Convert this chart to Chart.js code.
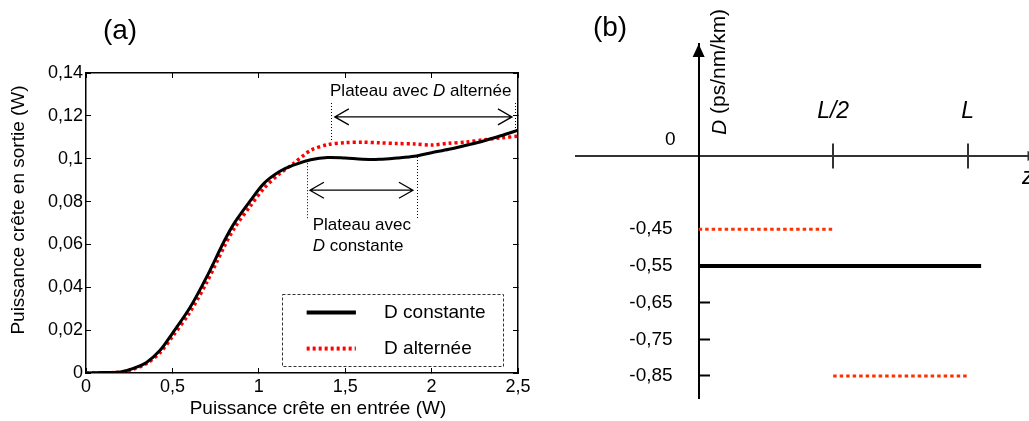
<!DOCTYPE html>
<html lang="fr">
<head>
<meta charset="utf-8">
<title>Puissance crête et profil de dispersion</title>
<script src="https://cdn.jsdelivr.net/npm/chart.js@4.4.1/dist/chart.umd.min.js"></script>
<style>
  html, body { margin: 0; padding: 0; background: #fff; }
  .figure { position: relative; width: 1029px; height: 421px; overflow: hidden; }
  #chart-a { position: absolute; left: 0; top: 0; }
  #chart-b { position: absolute; left: 540px; top: 0; }
</style>
</head>
<body>
<div class="figure">
  <canvas id="chart-a" width="540" height="421"></canvas>
  <canvas id="chart-b" width="489" height="421"></canvas>
</div>
<script>
const FONT_FAMILY = '"Liberation Sans", Arial, Helvetica, sans-serif';

// (a) output peak power vs input peak power
const inputPower = [0, 0.1, 0.2, 0.27, 0.35, 0.43, 0.5, 0.6, 0.7, 0.8, 0.86, 0.95, 1.03, 1.12, 1.2, 1.3, 1.4, 1.5, 1.6, 1.7, 1.8, 1.9, 2, 2.1, 2.2, 2.3, 2.4, 2.5];
const outputConstant = [0, 0.0002, 0.0005, 0.002, 0.0049, 0.0107, 0.0185, 0.0303, 0.0451, 0.0616, 0.0702, 0.0803, 0.0885, 0.094, 0.097, 0.0995, 0.1006, 0.1003, 0.0998, 0.0997, 0.1003, 0.1011, 0.1028, 0.1044, 0.1063, 0.1083, 0.1107, 0.1133];
const outputAlternating = [0, 0.0001, 0.0004, 0.0017, 0.0044, 0.0096, 0.017, 0.0282, 0.0425, 0.059, 0.0678, 0.0778, 0.0862, 0.093, 0.0977, 0.1039, 0.1066, 0.1075, 0.1077, 0.1074, 0.1071, 0.1069, 0.1064, 0.1072, 0.1078, 0.1088, 0.1097, 0.1105];
const powerTicks = [0, 0.5, 1, 1.5, 2, 2.5];
const powerTickLabels = ["0", "0,5", "1", "1,5", "2", "2,5"];
const outputTicks = [0, 0.02, 0.04, 0.06, 0.08, 0.1, 0.12, 0.14];
const outputTickLabels = ["0", "0,02", "0,04", "0,06", "0,08", "0,1", "0,12", "0,14"];

// (b) dispersion along the fibre (z in units of L)
const constantZ = [0, 1.05];
const constantD = [-0.55, -0.55];
const alternatingFirstZ = [0, 0.5];
const alternatingFirstD = [-0.45, -0.45];
const alternatingSecondZ = [0.5, 1];
const alternatingSecondD = [-0.85, -0.85];
const zTicks = [0.5, 1];
const zTickLabels = ["L/2", "L"];
const dispersionTicks = [-0.45, -0.55, -0.65, -0.75, -0.85];
const dispersionTickLabels = ["-0,45", "-0,55", "-0,65", "-0,75", "-0,85"];
// broken D axis: its 0 is drawn here, just above -0,45
const DISPERSION_ZERO_AT = -0.25;

Chart.defaults.font.family = FONT_FAMILY;
Chart.defaults.color = "#000";

function toPoints(xs, ys) {
  return xs.map((x, i) => ({ x, y: ys[i] }));
}

function drawRichText(ctx, parts, x, y, size) {
  let cursor = x;
  parts.forEach(([text, italic]) => {
    ctx.font = `${italic ? "italic " : ""}${size}px ${FONT_FAMILY}`;
    ctx.fillText(text, cursor, y);
    cursor += ctx.measureText(text).width;
  });
  return cursor - x;
}

function drawDoubleArrow(ctx, x1, x2, y) {
  const head = 14;
  const spread = 8;
  ctx.beginPath();
  ctx.moveTo(x1, y);
  ctx.lineTo(x2, y);
  ctx.moveTo(x1 + head, y - spread);
  ctx.lineTo(x1, y);
  ctx.lineTo(x1 + head, y + spread);
  ctx.moveTo(x2 - head, y - spread);
  ctx.lineTo(x2, y);
  ctx.lineTo(x2 - head, y + spread);
  ctx.stroke();
}

function boxAxis(position, min, max, tickValues, tickLabels, size, padding) {
  return {
    type: "linear",
    position,
    min,
    max,
    afterBuildTicks: (scale) => {
      scale.ticks = tickValues.map((value) => ({ value }));
    },
    afterFit: (scale) => {
      if (scale.isHorizontal()) {
        scale.height = size;
      } else {
        scale.width = size;
      }
    },
    grid: { drawOnChartArea: false, drawTicks: true, tickLength: -5, tickColor: "#000", tickWidth: 1 },
    border: { color: "#000", width: 1.5 },
    ticks: tickLabels
      ? { display: true, padding, color: "#000", font: { size: 18 }, callback: (value, index) => tickLabels[index] }
      : { display: false }
  };
}

const panelAOverlay = {
  id: "panelAOverlay",
  afterDraw(chart) {
    const { ctx, chartArea, scales } = chart;
    const px = (w) => scales.x.getPixelForValue(w);
    const py = (v) => scales.y.getPixelForValue(v);

    ctx.save();
    ctx.fillStyle = "#000";
    ctx.strokeStyle = "#000";
    ctx.textBaseline = "middle";
    ctx.textAlign = "center";

    ctx.font = `28px ${FONT_FAMILY}`;
    ctx.fillText("(a)", 120, 31);

    ctx.font = `19px ${FONT_FAMILY}`;
    ctx.fillText("Puissance crête en entrée (W)", (chartArea.left + chartArea.right) / 2 + 16, 409);
    ctx.save();
    ctx.translate(19, (chartArea.top + chartArea.bottom) / 2 - 13);
    ctx.rotate(-Math.PI / 2);
    ctx.fillText("Puissance crête en sortie (W)", 0, 0);
    ctx.restore();

    // plateau guides
    ctx.lineWidth = 1;
    ctx.setLineDash([1, 2]);
    [[1.418, 0.126, 0.1086], [2.483, 0.126, 0.1143], [1.277, 0.0993, 0.0722], [1.914, 0.1008, 0.0722]].forEach(([w, top, bottom]) => {
      ctx.beginPath();
      ctx.moveTo(Math.round(px(w)) + 0.5, py(top));
      ctx.lineTo(Math.round(px(w)) + 0.5, py(bottom));
      ctx.stroke();
    });
    ctx.setLineDash([]);
    ctx.lineWidth = 1.3;
    drawDoubleArrow(ctx, px(1.44), px(2.465), py(0.1195));
    drawDoubleArrow(ctx, px(1.296), px(1.892), py(0.0853));

    ctx.textAlign = "left";
    drawRichText(ctx, [["Plateau avec ", false], ["D", true], [" alternée", false]], px(1.418) - 1, py(0.1316), 17);
    drawRichText(ctx, [["Plateau avec", false]], px(1.312), py(0.0689), 17);
    drawRichText(ctx, [["D", true], [" constante", false]], px(1.312), py(0.0591), 17);

    // legend
    ctx.strokeStyle = "#333";
    ctx.lineWidth = 1;
    ctx.setLineDash([3, 2]);
    const boxLeft = Math.round(px(1.135)) + 0.5;
    const boxTop = Math.round(py(0.0371)) + 0.5;
    ctx.strokeRect(boxLeft, boxTop, Math.round(px(2.411)) + 0.5 - boxLeft, Math.round(py(0.0031)) + 0.5 - boxTop);
    const rows = [0.0282, 0.0114];
    chart.data.datasets.forEach((dataset, i) => {
      const rowY = py(rows[i]);
      ctx.strokeStyle = dataset.borderColor;
      ctx.lineWidth = 4;
      ctx.setLineDash(dataset.borderDash || []);
      ctx.beginPath();
      ctx.moveTo(px(1.277), rowY);
      ctx.lineTo(px(1.562), rowY);
      ctx.stroke();
      ctx.fillStyle = "#000";
      ctx.font = `19px ${FONT_FAMILY}`;
      ctx.fillText(dataset.label, px(1.725), rowY);
    });
    ctx.restore();
  }
};

const panelBOverlay = {
  id: "panelBOverlay",
  afterDraw(chart) {
    const { ctx, chartArea, scales } = chart;
    const axisX = scales.x.getPixelForValue(0);
    const axisY = scales.y.getPixelForValue(DISPERSION_ZERO_AT);

    ctx.save();
    ctx.fillStyle = "#000";
    ctx.beginPath();
    ctx.moveTo(axisX, chartArea.top);
    ctx.lineTo(axisX - 6, chartArea.top + 13);
    ctx.lineTo(axisX + 6, chartArea.top + 13);
    ctx.closePath();
    ctx.fill();

    // z arrow head sits mostly past the right edge
    ctx.fillStyle = "#333";
    ctx.beginPath();
    ctx.moveTo(chartArea.right - 1.5, axisY - 5);
    ctx.lineTo(chartArea.right + 11, axisY);
    ctx.lineTo(chartArea.right - 1.5, axisY + 5);
    ctx.closePath();
    ctx.fill();

    ctx.strokeStyle = "#333";
    ctx.lineWidth = 2;
    zTicks.forEach((value) => {
      const tickX = Math.round(scales.x.getPixelForValue(value));
      ctx.beginPath();
      ctx.moveTo(tickX, axisY - 12.5);
      ctx.lineTo(tickX, axisY + 12.5);
      ctx.stroke();
    });

    ctx.fillStyle = "#000";
    ctx.font = `19px ${FONT_FAMILY}`;
    ctx.textAlign = "right";
    ctx.textBaseline = "middle";
    dispersionTicks.forEach((value, i) => {
      ctx.fillText(dispersionTickLabels[i], axisX - 26, scales.y.getPixelForValue(value));
    });
    ctx.fillText("0", axisX - 23, axisY - 16);

    ctx.textAlign = "left";
    ctx.font = `italic 23px ${FONT_FAMILY}`;
    ctx.fillText("z", chartArea.right - 7, axisY + 22);

    ctx.save();
    ctx.translate(axisX + 21, axisY - 21);
    ctx.rotate(-Math.PI / 2);
    drawRichText(ctx, [["D", true], [" (ps/nm/km)", false]], 0, 0, 21);
    ctx.restore();

    ctx.textAlign = "center";
    ctx.font = `28px ${FONT_FAMILY}`;
    ctx.fillText("(b)", 70, 28);
    ctx.restore();
  }
};

new Chart(document.getElementById("chart-a"), {
  type: "line",
  data: {
    datasets: [
      {
        label: "D constante",
        data: toPoints(inputPower, outputConstant),
        borderColor: "#000000",
        borderWidth: 3,
        tension: 0.3,
        pointRadius: 0
      },
      {
        label: "D alternée",
        data: toPoints(inputPower, outputAlternating),
        borderColor: "#ff0000",
        borderWidth: 3.5,
        borderDash: [3, 3],
        tension: 0.3,
        pointRadius: 0
      }
    ]
  },
  options: {
    responsive: false,
    animation: false,
    events: [],
    layout: { padding: { left: 0, top: 73, right: 22, bottom: 0 } },
    plugins: { legend: { display: false }, tooltip: { enabled: false } },
    scales: {
      x: boxAxis("bottom", 0, 2.5, powerTicks, powerTickLabels, 48, 8),
      xTop: boxAxis("top", 0, 2.5, powerTicks, null, 0, 0),
      y: boxAxis("left", 0, 0.14, outputTicks, outputTickLabels, 86, 8),
      yRight: boxAxis("right", 0, 0.14, outputTicks, null, 0, 0)
    }
  },
  plugins: [panelAOverlay]
});

const redSegment = {
  borderColor: "#ff3000",
  borderWidth: 3,
  borderDash: [3.5, 3],
  pointRadius: 0
};

new Chart(document.getElementById("chart-b"), {
  type: "line",
  data: {
    datasets: [
      { label: "D constante", data: toPoints(constantZ, constantD), borderColor: "#000000", borderWidth: 4, pointRadius: 0 },
      { label: "D alternée", data: toPoints(alternatingFirstZ, alternatingFirstD), ...redSegment },
      { label: "D alternée", data: toPoints(alternatingSecondZ, alternatingSecondD), ...redSegment }
    ]
  },
  options: {
    responsive: false,
    animation: false,
    events: [],
    layout: { padding: { left: 36, top: 44, right: 0, bottom: 23 } },
    plugins: { legend: { display: false }, tooltip: { enabled: false } },
    scales: {
      x: {
        type: "linear",
        min: -0.456,
        max: 1.228,
        position: { y: DISPERSION_ZERO_AT },
        afterBuildTicks: (scale) => {
          scale.ticks = zTicks.map((value) => ({ value }));
        },
        grid: { drawOnChartArea: false, drawTicks: false },
        border: { color: "#333", width: 2 },
        ticks: {
          padding: -58.5,
          color: "#000",
          font: { size: 23, style: "italic" },
          callback: (value, index) => zTickLabels[index]
        }
      },
      y: {
        type: "linear",
        min: -0.91,
        max: 0.055,
        position: { x: 0 },
        afterBuildTicks: (scale) => {
          scale.ticks = dispersionTicks.map((value) => ({ value }));
        },
        grid: {
          drawOnChartArea: false,
          drawTicks: true,
          tickLength: -12,
          tickWidth: 2,
          tickColor: (context) => (context.tick && context.tick.value < -0.6 ? "#000" : "rgba(0,0,0,0)")
        },
        border: { color: "#000", width: 2 },
        ticks: { display: false }
      }
    }
  },
  plugins: [panelBOverlay]
});
</script>
</body>
</html>
